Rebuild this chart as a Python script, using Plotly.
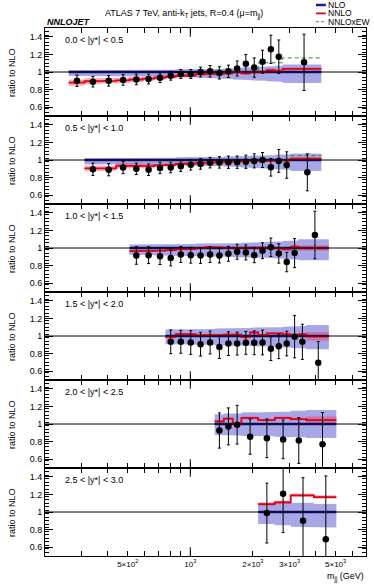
import numpy as np
import plotly.graph_objects as go
from plotly.subplots import make_subplots

# rapidity slices
labels = ["0.0 < |y*| < 0.5", "0.5 < |y*| < 1.0", "1.0 < |y*| < 1.5",
          "1.5 < |y*| < 2.0", "2.0 < |y*| < 2.5", "2.5 < |y*| < 3.0"]

# m_jj bin edges (GeV) per slice
edges_1 = [260, 310, 370, 440, 510, 590, 670, 760, 850, 950, 1060, 1180, 1310, 1450, 1600, 1760, 1940, 2120, 2330, 2550, 2780, 4270]
edges_2 = [310, 370, 440, 510, 590, 670, 760, 850, 950, 1060, 1180, 1310, 1450, 1600, 1760, 1940, 2120, 2330, 2550, 2780, 3040, 4270]
edges_3 = [510, 590, 670, 760, 850, 950, 1060, 1180, 1310, 1450, 1600, 1760, 1940, 2120, 2330, 2550, 2780, 3040, 3310, 4640]
edges_4 = [760, 850, 950, 1060, 1180, 1310, 1450, 1600, 1760, 1940, 2120, 2330, 2550, 2780, 3040, 3310, 3610, 4640]
edges_5 = [1310, 1450, 1600, 1760, 2120, 2550, 3040, 3610, 5040]
edges_6 = [2120, 2550, 3040, 3930, 5040]

# NLO scale band (ratio to NLO)
nlo_up_1 = [1.02, 1.02, 1.02, 1.02, 1.02, 1.025, 1.025, 1.025, 1.03, 1.03, 1.03, 1.035, 1.035, 1.04, 1.045, 1.05, 1.055, 1.06, 1.065, 1.07, 1.085]
nlo_lo_1 = [0.955, 0.955, 0.955, 0.95, 0.95, 0.95, 0.945, 0.945, 0.94, 0.94, 0.935, 0.93, 0.925, 0.92, 0.915, 0.91, 0.905, 0.9, 0.895, 0.89, 0.875]
nlo_up_2 = [1.02, 1.02, 1.02, 1.02, 1.025, 1.025, 1.025, 1.03, 1.03, 1.03, 1.035, 1.035, 1.04, 1.04, 1.045, 1.05, 1.05, 1.055, 1.06, 1.065, 1.075]
nlo_lo_2 = [0.95, 0.95, 0.95, 0.945, 0.945, 0.945, 0.94, 0.94, 0.935, 0.935, 0.93, 0.93, 0.925, 0.92, 0.915, 0.91, 0.905, 0.9, 0.895, 0.89, 0.875]
nlo_up_3 = [1.04, 1.04, 1.04, 1.045, 1.045, 1.045, 1.05, 1.05, 1.05, 1.055, 1.055, 1.06, 1.06, 1.065, 1.07, 1.075, 1.08, 1.085, 1.1]
nlo_lo_3 = [0.92, 0.92, 0.915, 0.915, 0.91, 0.91, 0.905, 0.905, 0.9, 0.9, 0.895, 0.895, 0.89, 0.89, 0.885, 0.88, 0.875, 0.87, 0.86]
nlo_up_4 = [1.075, 1.075, 1.08, 1.08, 1.08, 1.085, 1.085, 1.09, 1.09, 1.095, 1.095, 1.1, 1.1, 1.105, 1.11, 1.115, 1.125]
nlo_lo_4 = [0.905, 0.905, 0.9, 0.9, 0.9, 0.895, 0.895, 0.89, 0.89, 0.885, 0.885, 0.88, 0.875, 0.87, 0.865, 0.86, 0.85]
nlo_up_5 = [1.11, 1.12, 1.12, 1.13, 1.135, 1.14, 1.15, 1.16]
nlo_lo_5 = [0.875, 0.87, 0.87, 0.865, 0.86, 0.855, 0.85, 0.84]
nlo_up_6 = [1.097, 1.12, 1.105, 1.09]
nlo_lo_6 = [0.864, 0.85, 0.833, 0.825]

# NNLO / NLO central and band half-width
nnlo_1 = [0.88, 0.895, 0.9, 0.905, 0.915, 0.925, 0.935, 0.945, 0.955, 0.96, 0.975, 0.98, 0.98, 0.985, 1.0, 0.985, 1.0, 1.0, 1.02, 1.01, 1.035]
nnlo_e_1 = [0.035, 0.035, 0.03, 0.03, 0.03, 0.025, 0.025, 0.02, 0.02, 0.02, 0.02, 0.02, 0.02, 0.02, 0.02, 0.02, 0.02, 0.02, 0.02, 0.02, 0.015]
nnlo_2 = [0.905, 0.905, 0.935, 0.935, 0.93, 0.94, 0.945, 0.955, 0.96, 0.965, 0.97, 0.975, 0.98, 0.985, 0.99, 0.99, 0.99, 0.99, 0.995, 0.995, 1.015]
nnlo_e_2 = [0.03, 0.03, 0.03, 0.025, 0.025, 0.02, 0.02, 0.02, 0.02, 0.02, 0.02, 0.02, 0.02, 0.015, 0.015, 0.015, 0.015, 0.015, 0.015, 0.015, 0.015]
nnlo_3 = [0.965, 0.97, 0.97, 0.975, 0.985, 0.99, 1.0, 1.01, 1.005, 1.0, 1.0, 1.005, 1.0, 1.005, 1.005, 0.995, 0.985, 1.015, 1.0]
nnlo_e_3 = [0.015, 0.015, 0.015, 0.015, 0.015, 0.015, 0.015, 0.015, 0.015, 0.015, 0.015, 0.015, 0.015, 0.015, 0.015, 0.015, 0.015, 0.015, 0.03]
nnlo_4 = [0.99, 1.02, 1.02, 1.01, 1.005, 1.01, 1.015, 1.015, 0.99, 1.04, 1.01, 1.03, 1.03, 1.02, 1.0, 1.02, 0.995]
nnlo_e_4 = [0.015, 0.015, 0.015, 0.015, 0.015, 0.015, 0.015, 0.015, 0.015, 0.015, 0.015, 0.015, 0.015, 0.015, 0.015, 0.015, 0.05]
nnlo_5 = [1.03, 1.06, 1.0, 1.07, 1.045, 1.07, 1.055, 1.045]
nnlo_e_5 = [0.015, 0.015, 0.015, 0.015, 0.015, 0.015, 0.015, 0.04]
nnlo_6 = [1.09, 1.11, 1.19, 1.17]
nnlo_e_6 = [0.02, 0.02, 0.02, 0.02]

# NNLOxEW / NLO
ew_1 = nnlo_1[:17] + [1.105, 1.105, 1.105, 1.16]
ew_2 = nnlo_2[:20] + [1.05]
ew_3 = nnlo_3
ew_4 = nnlo_4
ew_5 = nnlo_5
ew_6 = nnlo_6

# ATLAS data / NLO
data_1 = [0.90, 0.89, 0.90, 0.91, 0.915, 0.92, 0.935, 0.957, 0.977, 0.977, 1.0, 1.008, 0.99, 1.008, 1.04, 1.095, 1.05, 1.117, 1.258, 1.174, 1.11]
derr_1 = [0.065, 0.06, 0.06, 0.06, 0.06, 0.055, 0.055, 0.05, 0.05, 0.05, 0.055, 0.065, 0.07, 0.07, 0.085, 0.105, 0.11, 0.13, 0.16, 0.19, 0.32]
data_2 = [0.895, 0.89, 0.915, 0.90, 0.89, 0.91, 0.915, 0.93, 0.945, 0.955, 0.97, 0.973, 0.975, 0.975, 0.98, 0.99, 1.0, 0.917, 0.99, 0.943, 0.86]
derr_2 = [0.07, 0.07, 0.07, 0.065, 0.065, 0.065, 0.06, 0.06, 0.06, 0.06, 0.06, 0.065, 0.07, 0.07, 0.075, 0.08, 0.085, 0.1, 0.13, 0.15, 0.21]
data_3 = [0.915, 0.918, 0.907, 0.887, 0.926, 0.918, 0.915, 0.926, 0.915, 0.934, 0.957, 0.95, 0.918, 0.969, 1.008, 0.938, 0.84, 0.942, 1.148]
derr_3 = [0.1, 0.095, 0.095, 0.09, 0.09, 0.09, 0.09, 0.09, 0.085, 0.085, 0.085, 0.085, 0.085, 0.09, 0.105, 0.11, 0.11, 0.165, 0.27]
data_4 = [0.934, 0.934, 0.926, 0.907, 0.926, 0.875, 0.914, 0.914, 0.922, 0.922, 0.926, 0.856, 0.883, 0.914, 0.992, 0.934, 0.696]
derr_4 = [0.135, 0.13, 0.135, 0.135, 0.13, 0.13, 0.135, 0.13, 0.13, 0.135, 0.14, 0.135, 0.14, 0.14, 0.24, 0.2, 0.24]
data_5 = [0.926, 0.973, 0.992, 0.856, 0.837, 0.825, 0.813, 0.77]
derr_5 = [0.2, 0.21, 0.22, 0.2, 0.22, 0.22, 0.26, 0.36]
data_6 = [0.988, 1.206, 0.90, 0.69]
derr_6 = [0.34, 0.44, 0.49, 0.72]

panels = [
    (edges_1, nlo_up_1, nlo_lo_1, nnlo_1, nnlo_e_1, ew_1, data_1, derr_1),
    (edges_2, nlo_up_2, nlo_lo_2, nnlo_2, nnlo_e_2, ew_2, data_2, derr_2),
    (edges_3, nlo_up_3, nlo_lo_3, nnlo_3, nnlo_e_3, ew_3, data_3, derr_3),
    (edges_4, nlo_up_4, nlo_lo_4, nnlo_4, nnlo_e_4, ew_4, data_4, derr_4),
    (edges_5, nlo_up_5, nlo_lo_5, nnlo_5, nnlo_e_5, ew_5, data_5, derr_5),
    (edges_6, nlo_up_6, nlo_lo_6, nnlo_6, nnlo_e_6, ew_6, data_6, derr_6),
]

BLUE_BAND = "rgba(80,80,210,0.5)"
BLUE_LINE = "#1c1c8a"
RED_BAND = "rgba(255,40,60,0.38)"
RED_LINE = "#e3001b"
GREEN = "#2e8b2e"
FONT = "Liberation Sans, Arial, sans-serif"


def steps(edges, vals):
    xs, ys = [], []
    for i, v in enumerate(vals):
        xs += [edges[i], edges[i + 1]]
        ys += [v, v]
    return xs, ys


def band(edges, hi, lo):
    xs, yh = steps(edges, hi)
    _, yl = steps(edges, lo)
    return xs + xs[::-1], yh + yl[::-1]


fig = make_subplots(rows=6, cols=1, shared_xaxes=True, vertical_spacing=0)

for r, (edges, up, lo, nn, ne, ew, dat, derr) in enumerate(panels, start=1):
    # NLO band
    bx, by = band(edges, up, lo)
    fig.add_trace(go.Scatter(x=bx, y=by, fill="toself", fillcolor=BLUE_BAND,
                             line=dict(width=0), mode="lines", hoverinfo="skip",
                             showlegend=False), row=r, col=1)
    # NNLOxEW
    sx, sy = steps(edges, ew)
    fig.add_trace(go.Scatter(x=sx, y=sy, mode="lines",
                             line=dict(color=GREEN, width=1, dash="4px,3px"),
                             showlegend=False), row=r, col=1)
    # NNLO band
    hi = [v + e for v, e in zip(nn, ne)]
    lw = [v - e for v, e in zip(nn, ne)]
    bx, by = band(edges, hi, lw)
    fig.add_trace(go.Scatter(x=bx, y=by, fill="toself", fillcolor=RED_BAND,
                             line=dict(width=0), mode="lines", hoverinfo="skip",
                             showlegend=False), row=r, col=1)
    # NLO central
    sx, sy = steps(edges, [1.0] * len(nn))
    fig.add_trace(go.Scatter(x=sx, y=sy, mode="lines",
                             line=dict(color=BLUE_LINE, width=2.5),
                             showlegend=False), row=r, col=1)
    # NNLO central
    sx, sy = steps(edges, nn)
    fig.add_trace(go.Scatter(x=sx, y=sy, mode="lines",
                             line=dict(color=RED_LINE, width=1.8),
                             showlegend=False), row=r, col=1)
    # data
    centers = [(edges[i] + edges[i + 1]) / 2 for i in range(len(dat))]
    fig.add_trace(go.Scatter(x=centers, y=dat, mode="markers",
                             marker=dict(color="black", size=6.5),
                             error_y=dict(type="data", array=derr, color="black",
                                          thickness=1, width=1.5),
                             showlegend=False), row=r, col=1)

    fig.add_hline(y=1, line=dict(color="black", width=1), row=r, col=1)

    # longer tick at 10^3
    xr = "x" if r == 1 else f"x{r}"
    yr = "y domain" if r == 1 else f"y{r} domain"
    for y0, y1 in [(0, 0.1), (0.9, 1)]:
        fig.add_shape(type="line", xref=xr, yref=yr, x0=1000, x1=1000, y0=y0, y1=y1,
                      line=dict(color="black", width=1))

    fig.add_annotation(text=labels[r - 1], xref=xr + " domain", yref=yr,
                       x=0.055, y=0.86, xanchor="left", yanchor="middle",
                       showarrow=False, font=dict(size=9, color="black"))
    fig.add_annotation(text="ratio to NLO", xref="paper", yref=yr,
                       x=-0.103, y=0.5, xanchor="center", yanchor="middle",
                       textangle=-90, showarrow=False, font=dict(size=9, color="black"))

    fig.update_yaxes(row=r, col=1, range=[0.5, 1.5], automargin=False,
                     tickvals=[0.6, 0.8, 1.0, 1.2, 1.4],
                     ticktext=["0.6", "0.8", "1", "1.2", "1.4"],
                     ticks="inside", ticklen=8, tickcolor="black",
                     minor=dict(tick0=0.5, dtick=0.04, ticks="inside", ticklen=4, tickcolor="black"),
                     showline=True, linecolor="black", linewidth=1, mirror="allticks",
                     showgrid=False, zeroline=False, tickfont=dict(size=9))

fig.update_xaxes(type="log", range=[np.log10(200), np.log10(7000)], automargin=False,
                 tickvals=[500, 1000, 2000, 3000, 5000],
                 ticktext=["5×10<sup>2</sup>", "10<sup>3</sup>", "2×10<sup>3</sup>",
                           "3×10<sup>3</sup>", "5×10<sup>3</sup>"],
                 ticks="inside", ticklen=5, tickcolor="black",
                 minor=dict(tickvals=[200, 300, 400, 600, 700, 800, 900, 4000, 6000, 7000],
                            ticks="inside", ticklen=5, tickcolor="black"),
                 showline=True, linecolor="black", linewidth=1, mirror="allticks",
                 showgrid=False, zeroline=False, tickfont=dict(size=8))

# header texts
fig.add_annotation(text="<b><i>NNLOJET</i></b>", xref="paper", yref="paper",
                   x=0, y=1.011, xanchor="left", yanchor="middle", showarrow=False,
                   font=dict(size=9, color="black"))
fig.add_annotation(text="ATLAS 7 TeV, anti-k<sub>T</sub> jets, R=0.4 (μ=m<sub>jj</sub>)",
                   xref="paper", yref="paper", x=0.433, y=1.026, xanchor="center",
                   yanchor="middle", showarrow=False, font=dict(size=9, color="black"))
fig.add_annotation(text="m<sub>jj</sub> (GeV)", xref="paper", yref="paper",
                   x=1, y=-0.04, xanchor="right", yanchor="middle", showarrow=False,
                   font=dict(size=9, color="black"))

# legend
leg = [("NLO", dict(color=BLUE_LINE, width=2.5)),
       ("NNLO", dict(color=RED_LINE, width=1.8)),
       ("NNLOxEW", dict(color=GREEN, width=1, dash="3px,2px"))]
for i, (name, ln) in enumerate(leg):
    yy = 1.0436 - i * 0.0159
    fig.add_shape(type="line", xref="paper", yref="paper", x0=0.844, x1=0.875,
                  y0=yy, y1=yy, line=ln)
    fig.add_annotation(text=name, xref="paper", yref="paper", x=0.88, y=yy,
                       xanchor="left", yanchor="middle", showarrow=False, borderpad=0,
                       font=dict(size=8.5, color="black"))

fig.update_layout(width=374, height=585, margin=dict(l=45, r=8, t=28, b=29),
                  paper_bgcolor="white", plot_bgcolor="white",
                  font=dict(family=FONT, color="black"), showlegend=False)

# page has a default 8px body margin; remove it so the figure fills the window
fig.write_html("out.html", config={"displayModeBar": False},
               post_script="document.body.style.margin='0';document.body.style.overflow='hidden';")
